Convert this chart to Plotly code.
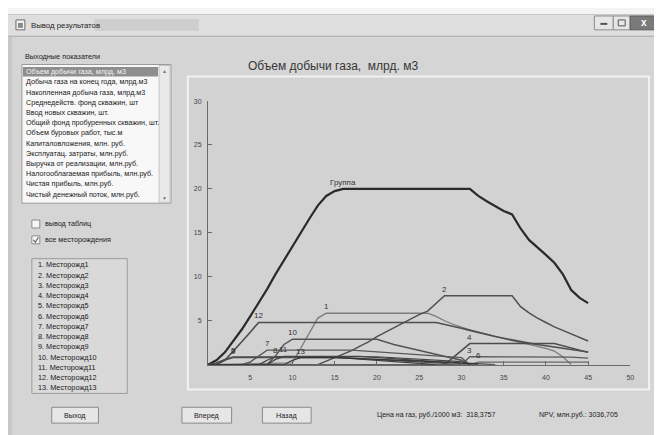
import plotly.graph_objects as go

# browser page has an 8px body margin; the figure is sized to fill the rest of the 662x435 window
SCREEN_W, SCREEN_H = 662, 435
OFF = 8
W, H = SCREEN_W - OFF, SCREEN_H - OFF

# ---------------- data ----------------
chart_title = "Объем добычи газа,\u00a0 млрд. м3"
series_names = ["Группа", "1", "2", "3", "4", "5", "6", "7", "8", "9", "10", "11", "12", "13"]

group_x = [0, 1, 2, 3, 4, 5, 6, 7, 8, 9, 10, 11, 12, 13, 14, 15, 16,
           31, 32, 33, 34, 35, 36, 37, 38, 39, 40, 41, 42, 43, 44, 45]
group_y = [0, 0.5, 1.4, 2.7, 4.0, 5.5, 7.0, 8.6, 10.3, 11.9, 13.5, 15.0, 16.6, 18.1, 19.2, 19.75, 20.0,
           20.0, 19.2, 18.6, 18.0, 17.5, 17.1, 15.5, 14.2, 13.4, 12.5, 11.6, 10.3, 8.5, 7.6, 7.0]

s1_x = [0, 10, 11, 12, 13, 14, 26, 27, 28, 29, 30, 31, 32, 33, 34, 35, 36, 37, 38, 39, 40, 41, 42, 43]
s1_y = [0, 0.2, 1.9, 3.6, 5.3, 5.85, 5.85, 5.5, 5.0, 4.6, 4.25, 3.95, 3.7, 3.45, 3.2, 2.95, 2.7, 2.5, 2.3, 2.1, 1.85, 1.55, 0.9, 0.0]

s2_x = [0, 13, 14, 15, 16, 17, 18, 19, 20, 21, 22, 23, 24, 25, 26, 27, 28, 36, 37, 38, 39, 40, 41, 42, 43, 44, 45]
s2_y = [0, 0, 0.4, 0.8, 1.2, 1.6, 2.1, 2.6, 3.2, 3.7, 4.2, 4.7, 5.2, 5.7, 6.1, 7.0, 7.85, 7.85, 6.6, 5.9, 5.3, 4.8, 4.3, 3.9, 3.5, 3.1, 2.7]

s3_x = [0, 30, 31, 41, 42, 43, 44, 45]
s3_y = [0, 0, 0.9, 0.9, 0.88, 0.85, 0.8, 0.75]

s4_x = [0, 28, 29, 30, 31, 41, 42, 43, 44, 45]
s4_y = [0, 0, 0.8, 1.6, 2.4, 2.4, 2.15, 1.9, 1.65, 1.4]

s5_x = [0, 1, 2, 3, 20, 25, 30, 31]
s5_y = [0, 0.2, 0.6, 0.9, 0.9, 0.65, 0.35, 0]

s6_x = [0, 31, 32, 45]
s6_y = [0, 0, 0.3, 0.3]

s7_x = [0, 4, 5, 6, 7, 17, 20, 23, 26, 29, 30, 31]
s7_y = [0, 0, 0.3, 1.0, 1.65, 1.65, 1.45, 1.25, 1.05, 0.85, 0.8, 0]

s8_x = [0, 6, 7, 8, 14, 20, 27]
s8_y = [0, 0, 0.5, 0.9, 0.9, 0.5, 0]

s9_x = [0, 1, 2, 3, 16, 22, 28, 29]
s9_y = [0, 0.1, 0.5, 0.8, 0.8, 0.5, 0.15, 0]

s10_x = [0, 7, 8, 9, 10, 20, 22, 24, 26, 28, 30, 31]
s10_y = [0, 0, 1.0, 2.3, 2.9, 2.9, 2.3, 1.85, 1.45, 1.0, 0.5, 0]

s11_x = [0, 7, 8, 9, 18, 25, 32]
s11_y = [0, 0, 0.6, 0.95, 0.95, 0.5, 0]

s12_x = [0, 1, 2, 3, 4, 5, 6, 27, 28, 29, 30, 31, 32, 33, 34, 35, 36, 37, 38, 39, 40, 41, 42, 43, 44, 45]
s12_y = [0, 0, 0.5, 1.5, 2.6, 3.7, 4.8, 4.8, 4.6, 4.4, 4.15, 3.9, 3.65, 3.4, 3.2, 3.0, 2.8, 2.6, 2.45, 2.3, 2.15, 2.0, 1.85, 1.7, 1.6, 1.45]

s13_x = [0, 9, 10, 11, 15, 22, 28, 34]
s13_y = [0, 0, 0.5, 0.8, 0.8, 0.55, 0.3, 0]

x_ticks = [5, 10, 15, 20, 25, 30, 35, 40, 45, 50]
y_ticks = [5, 10, 15, 20, 25, 30]

indicators = ["Объем добычи газа, млрд. м3", "Добыча газа на конец года, млрд.м3",
              "Накопленная добыча газа, млрд.м3", "Среднедейств. фонд скважин, шт",
              "Ввод новых скважин, шт.", "Общий фонд пробуренных скважин, шт.",
              "Объем буровых работ, тыс.м", "Капиталовложения, млн. руб.",
              "Эксплуатац. затраты, млн.руб.", "Выручка от реализации, млн.руб.",
              "Налогооблагаемая прибыль, млн.руб.", "Чистая прибыль, млн.руб.",
              "Чистый денежный поток, млн.руб."]
fields = ["1. Месторожд1", "2. Месторожд2", "3. Месторожд3", "4. Месторожд4", "5. Месторожд5",
          "6. Месторожд6", "7. Месторожд7", "8. Месторожд8", "9. Месторожд9", "10. Месторожд10",
          "11. Месторожд11", "12. Месторожд12", "13. Месторожд13"]
window_title = "Вывод результатов"
price_text = "Цена на газ, руб./1000 м3:\u00a0 318,3757"
npv_text = "NPV, млн.руб.: 3036,705"

# ---------------- styles ----------------
series_x = [group_x, s1_x, s2_x, s3_x, s4_x, s5_x, s6_x, s7_x, s8_x, s9_x, s10_x, s11_x, s12_x, s13_x]
series_y = [group_y, s1_y, s2_y, s3_y, s4_y, s5_y, s6_y, s7_y, s8_y, s9_y, s10_y, s11_y, s12_y, s13_y]
colors = ["#2a2a2a", "#7c7c7c", "#505050", "#585858", "#4c4c4c", "#454545", "#666666",
          "#5a5a5a", "#3c3c3c", "#4e4e4e", "#545454", "#444444", "#4e4e4e", "#363636"]
widths = [2.2, 1.3, 1.5, 1.3, 1.5, 1.2, 1.2, 1.4, 1.2, 1.2, 1.5, 1.2, 1.6, 1.2]

FONT = "Liberation Sans"


def px(x):
    return (x - OFF) / W


def py(y):
    return 1 - (y - OFF) / H


shapes = []
annots = []


def rect(x0, y0, x1, y1, fill, line="rgba(0,0,0,0)", lw=1):
    shapes.append(dict(type="rect", xref="paper", yref="paper", x0=px(x0), x1=px(x1),
                       y0=py(y1), y1=py(y0), fillcolor=fill, line=dict(color=line, width=lw),
                       layer="below"))


def text(x, y, s, size=7.2, color="#222222", anchor="left", bold=False):
    annots.append(dict(xref="paper", yref="paper", x=px(x), y=py(y), text=("<b>%s</b>" % s) if bold else s,
                       showarrow=False, xanchor=anchor, yanchor="middle",
                       font=dict(family=FONT, size=size, color=color)))


# window
rect(7, 10, 662, 435, "#c8c8c8")
rect(8, 11, 662, 32, "#dedede")
rect(95, 15, 200, 27, "rgba(150,150,150,0.22)")
rect(12, 33, 662, 435, "#d5d5d5")
shapes.append(dict(type="line", xref="paper", yref="paper", x0=px(8), x1=px(662), y0=py(32.5), y1=py(32.5),
                   line=dict(color="#b0b0b0", width=1), layer="below"))
# icon
rect(16, 16, 25, 26, "#f2f2f2", "#6a6a6a", 1)
rect(18, 19, 23, 24, "#8a8a8a")
text(29, 22, window_title, size=7.8, color="#1e1e1e")
# window buttons
rect(598, 12, 617, 26, "#e6e6e6", "#8c8c8c", 1)
rect(617, 12, 634, 26, "#e6e6e6", "#8c8c8c", 1)
rect(634, 12, 662, 26, "#7a7a7a", "#5c5c5c", 1)
rect(604, 19, 611, 21, "#555555")
rect(622, 16, 629, 22, "rgba(0,0,0,0)", "#555555", 1)
text(648, 19, "x", size=10, color="#ffffff", anchor="center", bold=True)

# left panel
text(23, 53, "Выходные показатели", size=7.3)
rect(22, 61, 172, 201, "#f8f8f8", "#9a9a9a", 1)
rect(160, 62, 171, 200, "#e9e9e9", "#c4c4c4", 1)
text(165.5, 68, "▲", size=5, color="#777777", anchor="center")
text(165.5, 196, "▼", size=5, color="#777777", anchor="center")
rect(23, 63.5, 159, 73, "#8e8e8e")
for i, s in enumerate(indicators):
    text(24, 68.3 + 10.3 * i, s, size=7.2, color="#f4f4f4" if i == 0 else "#1a1a1a")

# checkboxes
rect(32, 218, 40, 226, "#f6f6f6", "#8a8a8a", 1)
text(43, 222, "вывод таблиц", size=7.2)
rect(32, 234, 40, 242, "#f6f6f6", "#8a8a8a", 1)
shapes.append(dict(type="path", xref="paper", yref="paper",
                   path="M %f %f L %f %f L %f %f" % (px(33.5), py(238), px(35.5), py(240.5), px(38.5), py(235.5)),
                   line=dict(color="#666666", width=1.2), layer="below"))
text(43, 238, "все месторождения", size=7.2)

# fields list
rect(32, 257, 128, 393, "#d9d9d9", "#9c9c9c", 1)
for i, s in enumerate(fields):
    text(36, 263.3 + 10.33 * i, s, size=7.3, color="#1a1a1a")

# buttons
for (bx0, bx1, label) in [(52, 99, "Выход"), (183, 233, "Вперед"), (264, 313, "Назад")]:
    rect(bx0, 407, bx1, 423, "#e6e6e6", "#8a8a8a", 1)
    text((bx0 + bx1) / 2, 415, label, size=7.2, anchor="center")
text(377, 415, price_text, size=7.0)
text(540, 415, npv_text, size=7.0)

# chart panel
rect(189, 73, 653, 389, "#d2d2d2", "#f2f2f2", 2)
text(335, 63, chart_title, size=12, color="#353535", anchor="center")

fig = go.Figure()
for name, xs, ys, c, w in zip(series_names, series_x, series_y, colors, widths):
    fig.add_trace(go.Scatter(x=xs, y=ys, mode="lines", name=name,
                             line=dict(color=c, width=w), showlegend=False, hoverinfo="skip"))
    ymax = max(ys)
    xi = xs[ys.index(ymax)]
    annots.append(dict(x=xi, y=ymax, xref="x", yref="y", text=name, showarrow=False,
                       xanchor="center", yanchor="bottom", yshift=0,
                       font=dict(family=FONT, size=8, color="#333333")))

x0d, x1d = 209.2, 634.2
y0d, y1d = 364.0, 97.9
fig.update_layout(
    width=W, height=H, margin=dict(l=0, r=0, t=0, b=0),
    paper_bgcolor="#f4f4f4", plot_bgcolor="rgba(0,0,0,0)",
    shapes=shapes, annotations=annots, showlegend=False,
    xaxis=dict(domain=[px(x0d), px(x1d)], range=[0, 50], tickvals=x_ticks, showgrid=False, zeroline=False,
               showline=True, linecolor="#6a6a6a", linewidth=1, ticks="inside", ticklen=4,
               tickcolor="#6a6a6a", ticklabelstandoff=6,
               tickfont=dict(family=FONT, size=7, color="#444444"), fixedrange=True),
    yaxis=dict(domain=[py(y0d), py(y1d)], range=[0, 30], tickvals=y_ticks, showgrid=False, zeroline=False,
               showline=True, linecolor="#6a6a6a", linewidth=1, ticks="inside", ticklen=4,
               tickcolor="#6a6a6a", ticklabelstandoff=4,
               tickfont=dict(family=FONT, size=7, color="#444444"), fixedrange=True),
)

fig.write_html("out.html")
